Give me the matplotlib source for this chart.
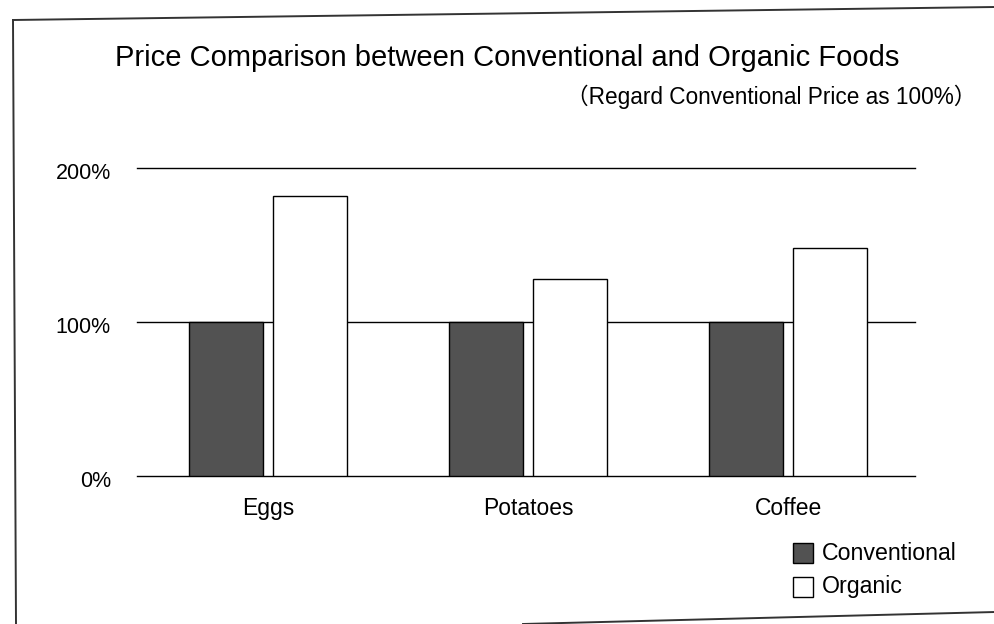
import matplotlib

matplotlib.use("Agg")
import matplotlib.pyplot as plt
import numpy as np
from matplotlib.lines import Line2D
from matplotlib.patches import Rectangle

# Dados (percentual em relação ao preço convencional)
categorias = ["Eggs", "Potatoes", "Coffee"]
convencional = [100, 100, 100]
organico = [182, 128, 148]
ticks_y = [0, 100, 200]
rotulos_y = ["0%", "100%", "200%"]
series = ["Conventional", "Organic"]

W, H = 995, 624
fig = plt.figure(figsize=(W / 100, H / 100), dpi=100)
fig.patch.set_facecolor("white")

FONTE = ["Liberation Sans", "DejaVu Sans"]
FONTE_JP = ["Liberation Sans", "Noto Sans CJK JP", "DejaVu Sans"]

# eixo: 0% em y=476 px, 200% em y=168 px; x de 137 a 915 px
ax = fig.add_axes([137 / W, 1 - 476 / H, (915 - 137) / W, (476 - 168) / H])
ax.set_xlim(-0.504, 2.488)
ax.set_ylim(0, 200)
ax.axis("off")

# linhas de grade horizontais
for v in ticks_y:
    ax.axhline(v, color="black", lw=1.0, zorder=1, clip_on=False)

x = np.arange(len(categorias))
larg = 0.285
desl = 0.162
ax.bar(x - desl, convencional, width=larg, color="#525252",
       edgecolor="black", linewidth=1.0, zorder=2)
ax.bar(x + desl, organico, width=larg, color="white",
       edgecolor="black", linewidth=1.0, zorder=2)

# rótulos do eixo y (à esquerda das linhas)
for v, r in zip(ticks_y, rotulos_y):
    ax.text(-0.604, v - 3.5, r, ha="right", va="center", fontsize=15.5,
            family=FONTE, clip_on=False)

# rótulos das categorias
for xi, c in zip(x, categorias):
    ax.text(xi, -21, c, ha="center", va="center", fontsize=16.5,
            family=FONTE, clip_on=False)

# título e subtítulo
fig.text(507 / W, 1 - 58 / H, "Price Comparison between Conventional and Organic Foods",
         ha="center", va="center", fontsize=21, family=FONTE)
fig.text(976 / W, 1 - 97 / H, "（Regard Conventional Price as 100%）",
         ha="right", va="center", fontsize=16.3, family=FONTE_JP)

# legenda manual
cores = ["#525252", "white"]
for i, (s, cor) in enumerate(zip(series, cores)):
    y0 = 553 + i * 34
    fig.add_artist(Rectangle((793 / W, 1 - (y0 + 10) / H), 20 / W, 20 / H,
                             facecolor=cor, edgecolor="black", lw=1.0,
                             transform=fig.transFigure))
    fig.text(822 / W, 1 - y0 / H, s, ha="left", va="center",
             fontsize=16.7, family=FONTE)

# moldura da página digitalizada
for (x0, y0), (x1, y1) in [((13, 20), (995, 7)), ((13, 20), (16, 624)),
                           ((523, 624), (995, 612))]:
    fig.add_artist(Line2D([x0 / W, x1 / W], [1 - y0 / H, 1 - y1 / H],
                          color="#333333", lw=1.4, transform=fig.transFigure))

fig.savefig("out.png", dpi=100, facecolor="white")
